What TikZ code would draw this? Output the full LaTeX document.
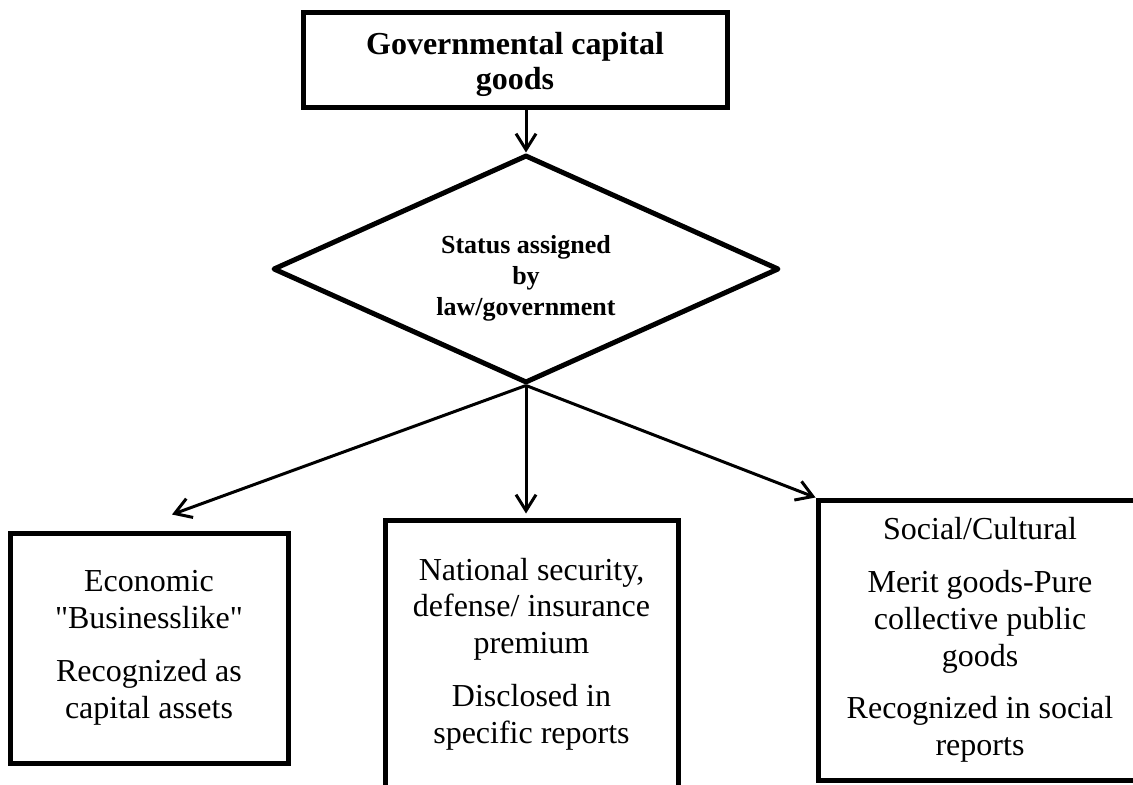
\documentclass[tikz,border=0pt]{standalone}
\usepackage{fontspec}
\setmainfont{Liberation Serif}
\usetikzlibrary{arrows.meta,positioning,shapes.geometric}

\begin{document}
\begin{tikzpicture}[x=0.5pt,y=-0.5pt,
  box/.style={draw,line width=2.5pt,align=center,inner sep=0pt,font=\fontsize{16}{18.4}\selectfont},
  decision/.style={draw,diamond,aspect=2.2,line width=2.5pt,line join=round,align=center,inner sep=0pt,font=\fontsize{13}{15.5}\selectfont\bfseries},
  arr/.style={line width=1.5pt,-{Straight Barb[length=8pt,width=10pt]}}]
  \useasboundingbox (0,0) rectangle (1133,785);

  % Top
  \node[box,font=\fontsize{16}{17.5}\selectfont\bfseries,text depth=0pt,minimum width=212pt,minimum height=47.5pt] (gov) at (515,60.5) {Governmental capital\\goods};

  % Decision
  \node[decision,text height=50pt,text depth=3pt,minimum width=253pt,minimum height=114pt] (status) at (526,269) {Status assigned\\by\\law/government};
  \draw[arr] (gov.south -| status.north) -- (status.north);

  % Three kinds
  \node[box,minimum width=139pt,minimum height=115pt] (econ) at (149,648) {Economic\\\textquotedbl Businesslike\textquotedbl\\[8pt]Recognized as\\capital assets};
  \node[box,minimum width=146.5pt,minimum height=134pt] (secur) at (531.5,654) {National security,\\defense/ insurance\\premium\\[8pt]Disclosed in\\specific reports};
  \node[box,minimum width=162pt,minimum height=140pt] (social) at (980,640) {Social/Cultural\\[8pt]Merit goods-Pure\\collective public\\goods\\[8pt]Recognized in social\\reports};

  \draw[arr] (status.south) -- ([shift={(23,-16)}]econ.north);
  \draw[arr,shorten >=2pt] (status.south) -- (status.south |- secur.north);
  \draw[arr] (status.south) -- (social.north west);
\end{tikzpicture}
\end{document}
